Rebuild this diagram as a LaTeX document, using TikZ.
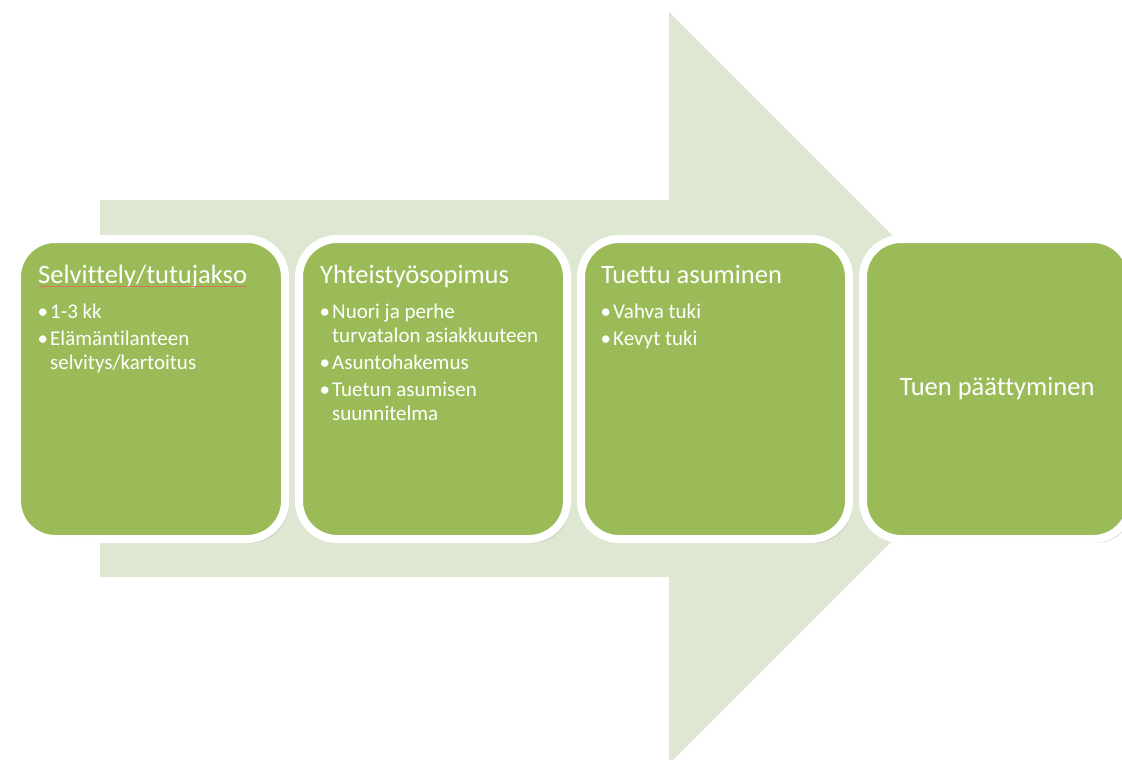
\documentclass[tikz,border=0pt]{standalone}
\usepackage{fontspec}
\setmainfont[Ligatures=NoCommon]{Carlito}
\usetikzlibrary{shadows}

\definecolor{phasegreen}{RGB}{155,187,89}
\definecolor{arrowtint}{RGB}{222,231,209}
\definecolor{spellred}{RGB}{214,118,92}

% bullet and hanging indent
\newcommand{\bul}{\makebox[10pt][l]{\kern-2.5pt\textbullet}}
\newcommand{\hang}{\hspace*{10pt}}

\tikzset{
	phase/.style={rounded corners=38pt, fill=phasegreen, draw=white, line width=8pt,
		minimum width=268pt, minimum height=300pt, inner sep=0pt, text=white,
		font=\fontsize{26.5}{30}\selectfont,
		drop shadow={shadow xshift=3pt, shadow yshift=-4pt, opacity=0.25}},
	phasetitle/.style={anchor=base west, text=white, inner sep=0pt,
		font=\fontsize{26.5}{30}\selectfont},
	% base of a multi-line node = baseline of its last line
	phaseitems/.style={anchor=base west, text=white, inner sep=0pt,
		align=left, font=\fontsize{21}{24}\selectfont}
}

\begin{document}
\begin{tikzpicture}[x=1pt, y=-1pt]
		\clip (0,0) rectangle (1122,760);

		% big background arrow
		\fill[arrowtint] (100,200) -- (669,200) -- (669,12) -- (1045,388)
			-- (669,764) -- (669,577) -- (100,577) -- cycle;

		\node[phase] (b1) at (151,389) {};
		\node[phase] (b2) at (433,389) {};
		\node[phase] (b3) at (715,389) {};
		\node[phase] (b4) at (997,389) {Tuen päättyminen};

		\node[phasetitle] (t1) at (38,283) {Selvittely/tutujakso};
		\node[phasetitle] (t2) at (320,283) {Yhteistyösopimus};
		\node[phasetitle] (t3) at (601,283) {Tuettu asuminen};

		\node[phaseitems] (i1) at (40,369) {\bul 1-3 kk\\[3pt]
			\bul Elämäntilanteen\\ \hang selvitys/kartoitus};
		\node[phaseitems] (i2) at (322,420) {\bul Nuori ja perhe\\ \hang turvatalon asiakkuuteen\\[3pt]
			\bul Asuntohakemus\\[3pt]
			\bul Tuetun asumisen\\ \hang suunnitelma};
		\node[phaseitems] (i3) at (603,345) {\bul Vahva tuki\\[3pt]
			\bul Kevyt tuki};

		\draw[spellred, line width=0.7pt] ([yshift=-3pt]t1.base west) -- ([yshift=-3pt]t1.base east);
	\end{tikzpicture}
\end{document}
